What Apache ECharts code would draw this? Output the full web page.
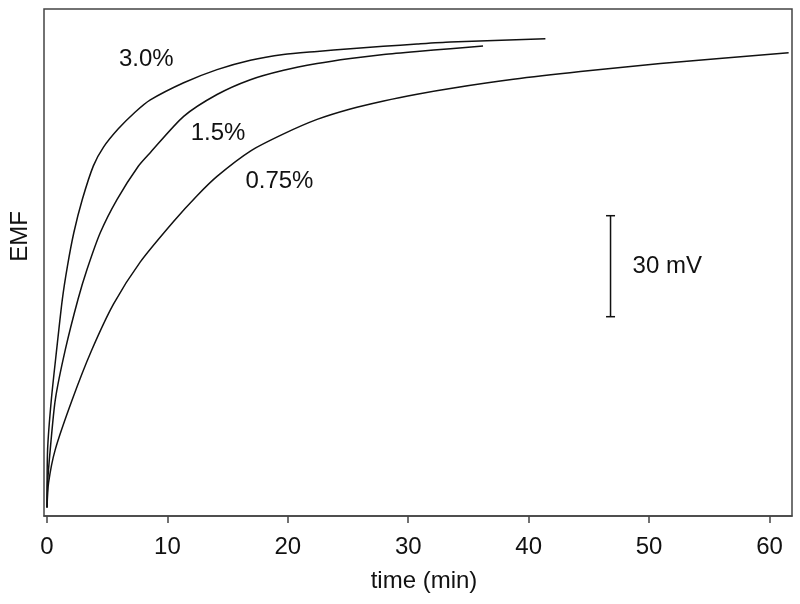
<!DOCTYPE html>
<html>
<head>
<meta charset="utf-8">
<script src="https://cdn.jsdelivr.net/npm/echarts@6/dist/echarts.min.js"></script>
<style>html,body{margin:0;padding:0;background:#fff}#c{width:800px;height:604px}</style>
</head>
<body>
<div id="c"></div>
<script>
// time (min) ticks
const timeTicks = [0, 10, 20, 30, 40, 50, 60];

// EMF (mV, relative) vs time (min)
const curve30 = [
  [0, 2.5], [0.05, 19.8], [0.36, 34.6], [0.80, 49.4], [1.27, 64.3], [1.69, 74.1],
  [2.23, 84.2], [2.93, 94.0], [3.85, 104.0], [4.68, 109.5], [5.92, 115.0],
  [7.33, 120.0], [8.58, 123.6], [11.35, 128.7], [14.12, 132.6], [16.89, 135.4],
  [19.63, 137.1], [22.43, 138.0], [25.19, 138.8], [27.93, 139.5], [30.73, 140.2],
  [33.50, 140.8], [41.39, 141.8]
];
const curve15 = [
  [0, 2.5], [0.05, 9.9], [0.27, 19.8], [0.69, 34.6], [1.52, 49.4], [2.57, 64.3],
  [3.32, 73.2], [4.43, 84.2], [5.81, 94.0], [7.58, 103.9], [8.59, 108.0],
  [11.35, 118.7], [14.12, 125.2], [16.89, 129.6], [19.65, 132.4], [22.43, 134.4],
  [25.19, 135.9], [27.96, 137.1], [30.73, 138.0], [33.50, 138.8], [36.21, 139.6]
];
const curve075 = [
  [0, 2.5], [0.13, 9.9], [0.69, 19.8], [2.10, 34.6], [3.68, 49.0], [5.53, 63.0],
  [7.75, 75.5], [10.51, 87.5], [12.50, 95.3], [14.12, 100.9], [16.89, 108.4],
  [19.65, 113.5], [22.43, 117.8], [25.19, 120.9], [27.96, 123.3], [30.73, 125.3],
  [33.50, 127.0], [38.73, 129.7], [44.30, 132.0], [50.94, 134.4], [61.59, 137.6]
];

// curve labels (text and anchor in data units)
const curveLabels = ['3.0%', '1.5%', '0.75%'];
const curveLabelPos = [[8.25, 135.6], [14.2, 113.6], [19.3, 99.4]];

// scale bar: 30 mV
const scaleBarTime = 46.8;
const scaleBarEMF = [59.2, 89.2];
const scaleBarText = '30 mV';

const FONT = 'Liberation Sans, Arial, sans-serif';
const chart = echarts.init(document.getElementById('c'), null, {renderer: 'canvas'});

const lineStyle = {color: '#111', width: 1.5};
function curveSeries(data) {
  return {
    type: 'line', data: data, showSymbol: false, symbol: 'none',
    smooth: 0.25,
    lineStyle: lineStyle, silent: true, z: 3
  };
}

chart.setOption({
  animation: false,
  backgroundColor: '#fff',
  grid: {left: 44, right: 8, top: 9, bottom: 88, show: true, borderColor: '#444', borderWidth: 1.5},
  xAxis: {
    type: 'value', min: -0.25, max: 61.87,
    name: 'time (min)', nameLocation: 'middle', nameGap: 53,
    nameTextStyle: {fontFamily: FONT, fontSize: 24, color: '#111', padding: [0, 0, 0, 12]},
    axisLine: {show: true, onZero: false, lineStyle: {color: '#444', width: 1.5}},
    axisTick: {show: true, inside: false, length: 7, customValues: timeTicks, lineStyle: {color: '#444', width: 1.5}},
    axisLabel: {show: true, customValues: timeTicks, margin: 19, fontFamily: FONT, fontSize: 24, color: '#111'},
    splitLine: {show: false}
  },
  yAxis: {
    type: 'value', min: 0, max: 150.6,
    name: 'EMF', nameLocation: 'middle', nameGap: 12, nameRotate: 90,
    nameTextStyle: {fontFamily: FONT, fontSize: 24, color: '#111', padding: [0, 0, 0, 52]},
    axisLine: {show: false}, axisTick: {show: false}, axisLabel: {show: false},
    splitLine: {show: false}
  },
  series: [
    curveSeries(curve30),
    curveSeries(curve15),
    curveSeries(curve075),
    {
      type: 'scatter', symbolSize: 0, silent: true, z: 4,
      itemStyle: {opacity: 1},
      data: curveLabels.map((t, i) => ({name: t, value: curveLabelPos[i]})),
      label: {show: true, position: 'inside', formatter: p => p.name, opacity: 1,
        fontFamily: FONT, fontSize: 24, color: '#111'}
    },
    {
      type: 'line', silent: true, z: 4,
      data: scaleBarEMF.map(v => [scaleBarTime, v]),
      symbol: 'rect', symbolSize: [9, 1.5], showSymbol: true,
      itemStyle: {color: '#111'},
      lineStyle: {color: '#111', width: 1.5}
    },
    {
      type: 'scatter', symbolSize: 0, silent: true, z: 4,
      itemStyle: {opacity: 1},
      data: [{name: scaleBarText, value: [scaleBarTime, (scaleBarEMF[0] + scaleBarEMF[1]) / 2]}],
      label: {show: true, position: 'right', distance: 22, formatter: p => p.name, opacity: 1,
        fontFamily: FONT, fontSize: 24, color: '#111'}
    }
  ]
});
</script>
</body>
</html>
